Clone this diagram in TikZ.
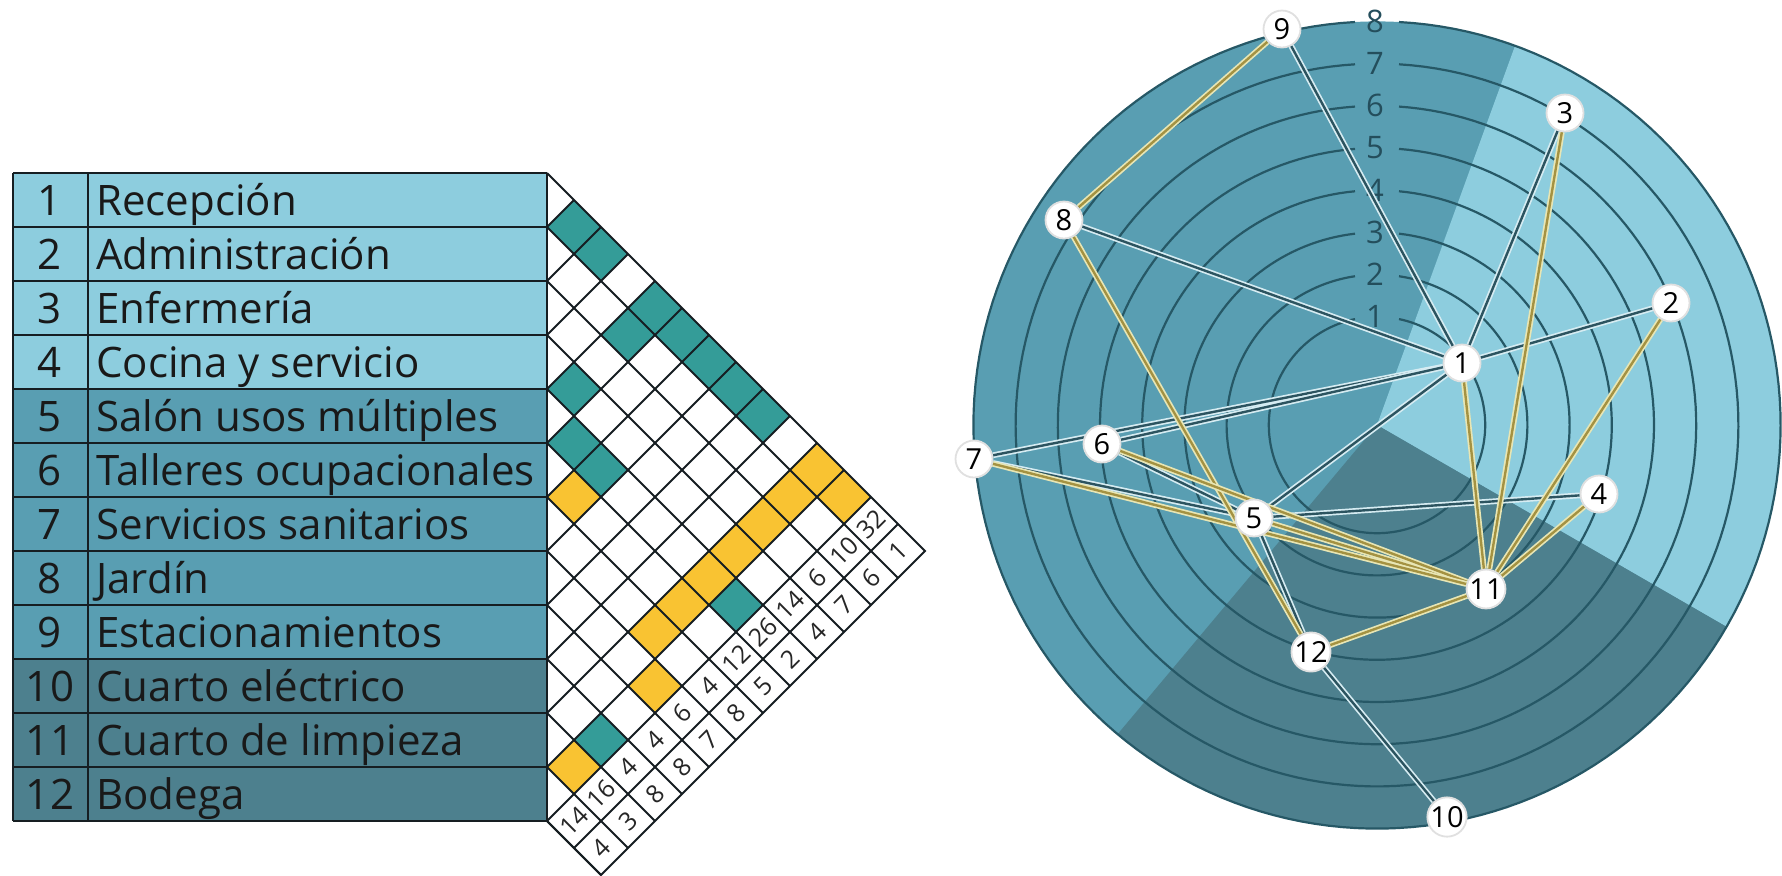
\documentclass[tikz,border=0pt]{standalone}
\usepackage{fontspec}
\setmainfont{Open Sans}
\usetikzlibrary{calc}
\definecolor{zlight}{RGB}{141,205,222}
\definecolor{zmid}{RGB}{89,158,178}
\definecolor{zdark}{RGB}{77,128,142}
\definecolor{celteal}{RGB}{52,156,152}
\definecolor{celgold}{RGB}{249,195,50}
\definecolor{gridink}{RGB}{22,30,34}
\definecolor{ringink}{RGB}{38,88,102}
\definecolor{lblink}{RGB}{36,78,92}
\definecolor{edgeink}{RGB}{44,84,96}
\definecolor{edgehalo}{RGB}{214,236,242}
\definecolor{goldink}{RGB}{164,146,66}
\definecolor{goldhalo}{RGB}{232,230,180}
\pgfdeclarelayer{disc}
\pgfdeclarelayer{links}
\pgfsetlayers{disc,links,main}
\tikzset{
  rowtxt/.style={anchor=base west, inner sep=0pt, font=\fontsize{21}{24}\selectfont, text=black!90},
  rownum/.style={anchor=base, inner sep=0pt, font=\fontsize{21}{24}\selectfont, text=black!90},
  cellnum/.style={rotate=45, inner sep=0pt, font=\fontsize{12.5}{14}\selectfont, text=black!85},
  tabline/.style={draw=gridink, line width=1pt},
  ringline/.style={draw=ringink, line width=1.1pt},
  ringlbl/.style={inner sep=0pt, text=lblink, font=\fontsize{15.5}{17}\selectfont},
  room/.style={circle, fill=white, draw=black!12, line width=0.9pt,
    minimum size=18.5pt, inner sep=0pt, font=\fontsize{14.5}{16}\selectfont},
  link/.style={draw=edgehalo, double=edgeink, double distance=1.2pt, line width=0.85pt},
  glink/.style={draw=goldhalo, double=goldink, double distance=1.2pt, line width=0.85pt}
}
\begin{document}
\begin{tikzpicture}[x=0.5pt, y=-0.5pt]
  \useasboundingbox (0,0) rectangle (1782,875);
  % list of spaces
  \foreach \k/\name/\zc in {1/Recepción/zlight, 2/Administración/zlight,
      3/Enfermería/zlight, 4/Cocina y servicio/zlight, 5/Salón usos múltiples/zmid,
      6/Talleres ocupacionales/zmid, 7/Servicios sanitarios/zmid, 8/Jardín/zmid,
      9/Estacionamientos/zmid, 10/Cuarto eléctrico/zdark,
      11/Cuarto de limpieza/zdark, 12/Bodega/zdark} {
    \fill[\zc] (13,{119+54*\k}) rectangle (547,{173+54*\k});
    \node[rownum] (num\k) at (50,{161+54*\k}) {\k};
    \node[rowtxt] (txt\k) at (96,{161+54*\k}) {\name};
  }
  \foreach \k in {0,...,12}
    \draw[tabline] (13,{173+54*\k}) -- (547,{173+54*\k});
  \draw[tabline] (13,173) -- (13,821) (88,173) -- (88,821) (547,173) -- (547,821);
  % relation matrix
  \foreach \i/\j in {1/2,1/3,1/5,2/5,1/6,1/7,1/8,1/9,4/5,5/6,5/7,5/12,10/12}
    \fill[celteal] ({547+(\j-\i)*27},{146+(\i+\j)*27})
      +(-27,0) -- +(0,-27) -- +(27,0) -- +(0,27) -- cycle;
  \foreach \i/\j in {1/11,1/12,2/11,3/11,4/11,5/11,6/11,7/11,6/7,8/12,11/12}
    \fill[celgold] ({547+(\j-\i)*27},{146+(\i+\j)*27})
      +(-27,0) -- +(0,-27) -- +(27,0) -- +(0,27) -- cycle;
  \draw[tabline] (547,173) -- (925,551) -- (601,875) -- (547,821);
  \foreach \k in {1,...,12} {
    \draw[tabline] (547,{173+54*\k}) -- ++({(14-\k)*27},{(14-\k)*27});
    \draw[tabline] (547,{173+54*\k}) -- ++({\k*27},{-\k*27});
  }
  \draw[tabline] (574,848) -- (898,524);
  \foreach \i/\a/\b in {1/32/1, 2/10/6, 3/6/7, 4/14/4, 5/26/2, 6/12/5,
      7/4/8, 8/6/7, 9/4/8, 10/4/8, 11/16/3, 12/14/4} {
    \node[cellnum] (sa\i) at ({547+(13-\i)*27},{146+(\i+13)*27}) {\a};
    \node[cellnum] (sb\i) at ({547+(14-\i)*27},{146+(\i+14)*27}) {\b};
  }
  % radial chart
  \begin{pgfonlayer}{disc}
    \coordinate (C) at (1377,425);
    \fill[zmid] (C) circle[radius=201.8pt];
    \begin{scope}
      \clip (C) circle[radius=201.8pt];
      \fill[zlight] (C) -- ($(C)+(-70:700)$) -- ($(C)+(-20:700)$) -- ($(C)+(30:700)$) -- cycle;
      \fill[zdark] (C) -- ($(C)+(30:700)$) -- ($(C)+(80:700)$) -- ($(C)+(130:700)$) -- cycle;
    \end{scope}
    \foreach \r in {1,...,8} {
      \pgfmathsetmacro\ringR{66+42.2*\r}
      \pgfmathsetmacro\ringa{-90+asin(22/\ringR)}
      \pgfmathsetmacro\ringb{270-asin(22/\ringR)}
      \draw[ringline] plot[domain=\ringa:\ringb, samples=180, variable=\t]
        ({1377+\ringR*cos(\t)},{425+\ringR*sin(\t)});
      \node[ringlbl] (tick\r) at (1375,{425-\ringR}) {\r};
    }
  \end{pgfonlayer}
  \node[room] (n1) at (1462,363) {1};
  \node[room] (n2) at (1671,303) {2};
  \node[room] (n3) at (1565,113) {3};
  \node[room] (n4) at (1599,494) {4};
  \node[room] (n5) at (1254,518) {5};
  \node[room] (n6) at (1102,444) {6};
  \node[room] (n7) at (974,459) {7};
  \node[room] (n8) at (1064,220) {8};
  \node[room] (n9) at (1282,29) {9};
  \node[room] (n10) at (1447,817) {10};
  \node[room] (n11) at (1486,589) {11};
  \node[room] (n12) at (1311,652) {12};
  \begin{pgfonlayer}{links}
    \foreach \p/\q in {9/1,8/1,3/1,2/1,1/7,1/6,1/5,4/5,7/5,6/5,5/12,12/10}
      \draw[link] (n\p) -- (n\q);
    \foreach \p/\q in {9/8,8/12,3/11,2/11,1/11,4/11,5/11,6/11,7/11,12/11}
      \draw[glink] (n\p) -- (n\q);
  \end{pgfonlayer}
\end{tikzpicture}
\end{document}
